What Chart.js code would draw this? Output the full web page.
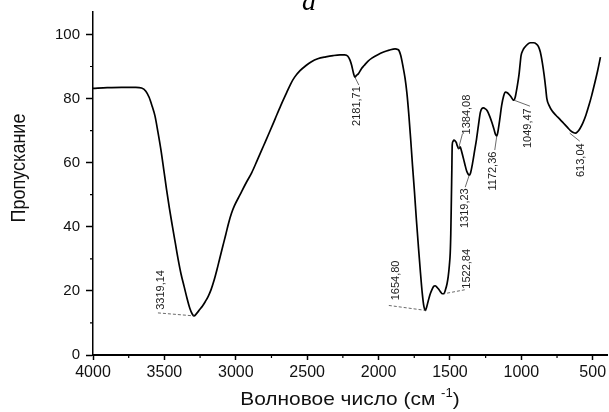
<!DOCTYPE html>
<html>
<head>
<meta charset="utf-8">
<script src="https://cdn.jsdelivr.net/npm/chart.js@4.4.1/dist/chart.umd.min.js"></script>
<style>
  html, body { margin: 0; padding: 0; background: #fff; }
  canvas { display: block; }
</style>
</head>
<body>
<canvas id="irChart" width="609" height="412"></canvas>
<script>
// spectrum (wavenumber, transmittance)
const waveNumber = [
  4000, 3900, 3800, 3700, 3660, 3630, 3607, 3585, 3566, 3545, 3525, 3505, 3485, 3465, 3444, 3423,
  3403, 3383, 3362, 3342, 3322, 3305, 3293, 3275, 3254, 3233, 3213, 3193, 3173, 3152, 3132, 3112,
  3091, 3070, 3050, 3030, 3010, 2969, 2930, 2888, 2850, 2806, 2765, 2725, 2685, 2643, 2615, 2589,
  2550, 2508, 2470, 2426, 2370, 2318, 2270, 2237, 2215, 2200, 2188, 2176, 2166, 2155, 2142, 2120,
  2101, 2075, 2047, 2005, 1965, 1925, 1884, 1865, 1857, 1845, 1830, 1815, 1802, 1788, 1775, 1762,
  1748, 1735, 1721, 1708, 1694, 1683, 1672, 1663, 1653, 1640, 1626, 1614, 1604, 1592, 1580, 1566,
  1553, 1543, 1531, 1520, 1512, 1504, 1498, 1494, 1490, 1487, 1484, 1479, 1472, 1464, 1456, 1448,
  1440, 1434, 1428, 1420, 1410, 1396, 1383, 1372, 1365, 1357, 1341, 1328, 1314, 1300, 1287, 1276,
  1266, 1252, 1239, 1222, 1206, 1192, 1180, 1172, 1165, 1152, 1138, 1124, 1111, 1098, 1084, 1070,
  1058, 1051, 1043, 1030, 1017, 1008, 1002, 990, 976, 955, 935, 915, 894, 880, 867, 853,
  840, 830, 821, 805, 785, 758, 731, 704, 677, 656, 636, 620, 609, 590, 568, 548,
  527, 507, 487, 466, 446
];
const transmittance = [
  83.2, 83.4, 83.5, 83.5, 83.3, 82.3, 80.4, 77.5, 74.6, 69.5, 64.2, 58.0, 51.7, 45.8, 40.2, 34.8,
  29.7, 25.2, 21.4, 17.8, 14.6, 12.8, 12.2, 12.9, 14.1, 15.3, 16.7, 18.3, 20.4, 23.3, 26.6, 30.2,
  33.9, 37.6, 41.2, 44.2, 46.5, 50.1, 53.5, 56.9, 60.7, 65.2, 69.4, 73.6, 77.8, 81.9, 84.6, 86.6,
  88.7, 90.3, 91.5, 92.4, 93.0, 93.4, 93.6, 93.6, 93.2, 92.0, 90.3, 88.0, 86.7, 87.2, 87.7, 89.3,
  90.3, 91.6, 92.6, 93.7, 94.5, 95.1, 95.5, 95.3, 95.0, 93.5, 90.3, 86.5, 81.9, 75.0, 67.3, 59.0,
  50.6, 42.2, 33.9, 26.5, 19.3, 15.3, 13.9, 15.0, 16.7, 18.8, 20.4, 21.4, 21.6, 21.2, 20.6, 19.7,
  19.1, 19.1, 20.4, 22.3, 24.5, 28.0, 31.8, 38.0, 48.5, 57.0, 65.5, 66.6, 67.0, 66.8, 66.3, 65.2,
  64.4, 64.6, 64.9, 63.8, 62.1, 59.6, 57.4, 56.4, 56.1, 56.6, 60.0, 63.5, 67.3, 71.8, 75.7, 76.9,
  77.1, 76.8, 76.2, 74.5, 72.5, 70.5, 68.7, 68.3, 69.4, 73.2, 77.8, 80.8, 82.0, 81.8, 81.2, 80.4,
  79.6, 79.5, 80.4, 83.5, 87.2, 91.0, 93.4, 95.0, 96.0, 97.0, 97.4, 97.4, 97.0, 96.2, 94.5, 91.2,
  87.2, 83.5, 79.9, 77.8, 76.2, 74.8, 73.6, 72.3, 71.0, 70.0, 69.4, 69.2, 69.5, 70.6, 72.5, 74.8,
  77.8, 81.0, 84.6, 88.6, 92.9
];

const xTicks = [4000, 3500, 3000, 2500, 2000, 1500, 1000, 500];
const yTicks = [0, 20, 40, 60, 80, 100];

// marked bands
const peakLabels = ['3319,14', '1654,80', '1522,84', '1319,23', '1384,08', '1172,36', '1049,47', '613,04', '2181,71'];
const peakX = [3293, 1669, 1543, 1365, 1440, 1172, 1052, 661, 2166];
const peakY = [12.2, 13.9, 19.1, 56.1, 64.4, 68.3, 79.5, 69.2, 86.7];

// label placement relative to the marked point: text centre, leader start, dashed
const labelLayout = [
  { tx: -33, ty: -26, lx: -36, ly: -3, dash: true },
  { tx: -30, ty: -30, lx: -37, ly: -5, dash: true },
  { tx: 23, ty: -25, lx: 21, ly: -4, dash: true },
  { tx: -4, ty: 33, lx: -4, ly: 12 },
  { tx: 8, ty: -34, lx: 4, ly: -15 },
  { tx: -4, ty: 35, lx: -2, ly: 14 },
  { tx: 14, ty: 28, lx: 16, ly: 6 },
  { tx: 11, ty: 27, lx: 10, ly: 8 },
  { tx: 2, ty: 29, lx: 4, ly: 8 }
];

const points = waveNumber.map((w, i) => ({ x: w, y: transmittance[i] }));

const overlay = {
  id: 'overlay',
  afterDraw(chart) {
    const ctx = chart.ctx;
    const xs = chart.scales.x;
    const ys = chart.scales.y;
    const area = chart.chartArea;
    ctx.save();

    // minor ticks
    ctx.strokeStyle = '#000';
    ctx.lineWidth = 1.2;
    ctx.beginPath();
    for (let i = 0; i < xTicks.length - 1; i++) {
      const px = xs.getPixelForValue((xTicks[i] + xTicks[i + 1]) / 2);
      ctx.moveTo(px, area.bottom);
      ctx.lineTo(px, area.bottom + 3);
    }
    for (let i = 0; i < yTicks.length - 1; i++) {
      const py = ys.getPixelForValue((yTicks[i] + yTicks[i + 1]) / 2);
      ctx.moveTo(area.left - 3, py);
      ctx.lineTo(area.left, py);
    }
    ctx.stroke();

    // band labels
    ctx.font = '11px "Liberation Sans", Arial, sans-serif';
    ctx.textAlign = 'center';
    ctx.textBaseline = 'middle';
    peakLabels.forEach((txt, i) => {
      const px = xs.getPixelForValue(peakX[i]);
      const py = ys.getPixelForValue(peakY[i]);
      const l = labelLayout[i];
      ctx.strokeStyle = '#444';
      ctx.lineWidth = 0.8;
      ctx.setLineDash(l.dash ? [3, 2] : []);
      ctx.beginPath();
      ctx.moveTo(px + l.lx, py + l.ly);
      ctx.lineTo(px, py);
      ctx.stroke();
      ctx.save();
      ctx.translate(px + l.tx, py + l.ty);
      ctx.rotate(-Math.PI / 2);
      ctx.fillStyle = '#222';
      ctx.fillText(txt, 0, 0);
      ctx.restore();
    });
    ctx.setLineDash([]);

    // axis titles
    ctx.fillStyle = '#111';
    ctx.save();
    ctx.translate(20, 168);
    ctx.rotate(-Math.PI / 2);
    ctx.scale(1, 1.1);
    ctx.font = '18px "Liberation Sans", Arial, sans-serif';
    ctx.fillText('Пропускание', 0, 0);
    ctx.restore();

    ctx.save();
    ctx.textBaseline = 'alphabetic';
    ctx.textAlign = 'left';
    const main = 'Волновое число (см ';
    ctx.font = '19px "Liberation Sans", Arial, sans-serif';
    const w1 = ctx.measureText(main).width;
    ctx.font = '12px "Liberation Sans", Arial, sans-serif';
    const w2 = ctx.measureText('-1').width;
    ctx.font = '19px "Liberation Sans", Arial, sans-serif';
    const w3 = ctx.measureText(')').width;
    const sx = 1.1;
    const total = (w1 + w2 + w3) * sx;
    ctx.translate((area.left + area.right) / 2 - total / 2, 405);
    ctx.scale(sx, 1);
    ctx.fillText(main, 0, 0);
    ctx.font = '12px "Liberation Sans", Arial, sans-serif';
    ctx.fillText('-1', w1, -8);
    ctx.font = '19px "Liberation Sans", Arial, sans-serif';
    ctx.fillText(')', w1 + w2, 0);
    ctx.restore();

    // panel letter, mostly cut off at the top
    ctx.font = 'italic 28px "Liberation Serif", serif';
    ctx.textAlign = 'center';
    ctx.textBaseline = 'alphabetic';
    ctx.fillStyle = '#000';
    ctx.fillText('a', 309, 10);

    ctx.restore();
  }
};

new Chart(document.getElementById('irChart').getContext('2d'), {
  type: 'line',
  data: {
    datasets: [{
      data: points,
      borderColor: '#000',
      borderWidth: 1.7,
      pointRadius: 0,
      fill: false,
      cubicInterpolationMode: 'monotone'
    }]
  },
  options: {
    responsive: false,
    animation: false,
    layout: { padding: { top: 12, right: 2, left: 0, bottom: 0 } },
    plugins: {
      legend: { display: false },
      tooltip: { enabled: false }
    },
    scales: {
      x: {
        type: 'linear',
        reverse: true,
        min: 400,
        max: 4000,
        afterBuildTicks: (scale) => { scale.ticks = xTicks.map(v => ({ value: v })); },
        afterFit: (scale) => { scale.height = 57; scale.paddingLeft = 0; scale.paddingRight = 0; },
        grid: { drawOnChartArea: false, drawTicks: true, tickLength: 5, tickColor: '#000', tickWidth: 1.5 },
        border: { display: true, color: '#000', width: 2 },
        ticks: {
          color: '#111',
          padding: 3,
          maxRotation: 0,
          font: { family: '"Liberation Sans", Arial, sans-serif', size: 16 },
          callback: (v) => String(v)
        }
      },
      y: {
        min: 0,
        max: 107,
        afterBuildTicks: (scale) => { scale.ticks = yTicks.map(v => ({ value: v })); },
        afterFit: (scale) => { scale.width = 93; scale.paddingTop = 0; scale.paddingBottom = 0; },
        grid: { drawOnChartArea: false, drawTicks: true, tickLength: 7, tickColor: '#000', tickWidth: 1.5 },
        border: { display: true, color: '#000', width: 1.5 },
        ticks: {
          color: '#111',
          padding: 6,
          font: { family: '"Liberation Sans", Arial, sans-serif', size: 15 },
          callback: (v) => String(v)
        }
      }
    }
  },
  plugins: [overlay]
});
</script>
</body>
</html>
